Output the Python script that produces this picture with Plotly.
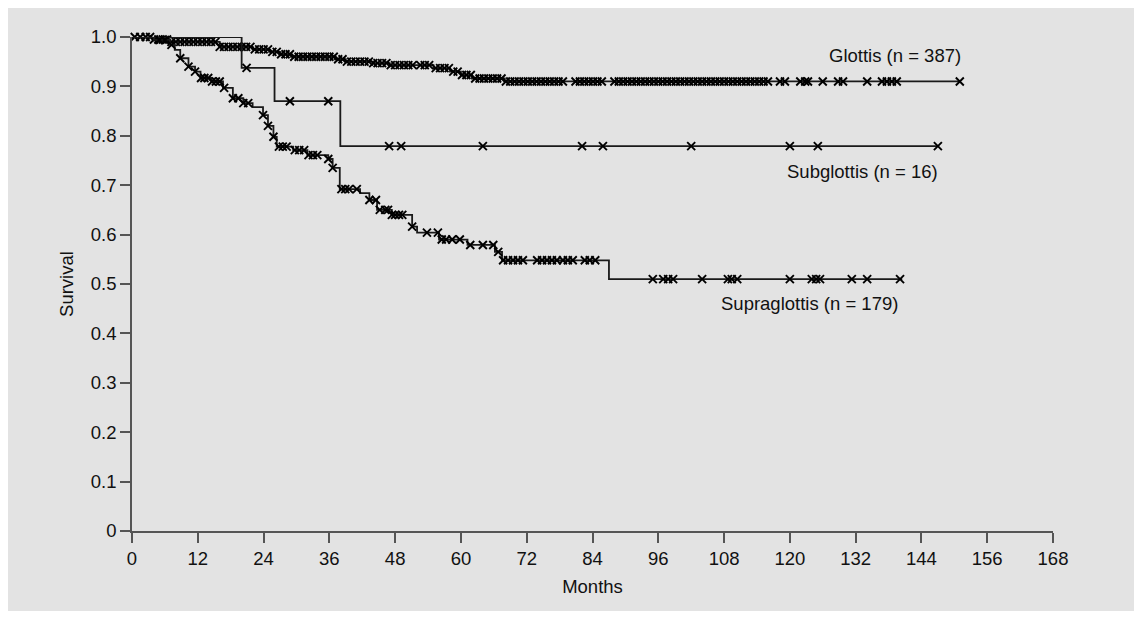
import plotly.graph_objects as go

# ---------------- data ----------------
x_ticks = [0, 12, 24, 36, 48, 60, 72, 84, 96, 108, 120, 132, 144, 156, 168]
y_ticks = [0, 0.1, 0.2, 0.3, 0.4, 0.5, 0.6, 0.7, 0.8, 0.9, 1.0]
y_tick_text = ["0", "0.1", "0.2", "0.3", "0.4", "0.5", "0.6", "0.7", "0.8", "0.9", "1.0"]

# Glottis (n = 387): step times (months) and survival after each step
glottis_times = [0, 4, 7, 16, 22, 25, 27, 29, 37, 39, 44, 47, 55, 58, 60, 62, 68, 151]
glottis_surv = [1.0, 0.995, 0.99, 0.98, 0.975, 0.97, 0.965, 0.96, 0.955, 0.95, 0.947,
                0.943, 0.937, 0.93, 0.923, 0.916, 0.91, 0.91]
glottis_censor = [0.5, 1.5, 2.5, 3.3,
                  4.0, 4.8, 5.6, 6.4, 7.2, 8.0, 8.8, 9.6, 10.4, 11.2, 12.0, 12.8, 13.6,
                  14.4, 15.2, 16.0, 16.8, 17.6, 18.4, 19.2, 20.0, 20.8, 21.6, 22.4, 23.2,
                  24.0, 24.8, 25.6, 26.4, 27.2, 28.0, 28.8, 29.6, 30.4, 31.2, 32.0, 32.8,
                  33.6, 34.4, 35.2, 36.0, 36.8, 37.6, 38.4, 39.2, 40.0, 40.8, 41.6, 42.4,
                  43.2, 44.0, 44.8, 45.6, 46.4, 47.2, 48.0, 48.8, 49.6, 50.4, 51.2,
                  52.6, 53.4, 54.2, 55.4, 56.2, 57.0, 57.8, 58.6, 59.4, 60.2, 61.0, 61.8,
                  62.6, 63.4, 64.2, 65.0, 65.8, 66.6, 67.4, 68.2, 69.0, 69.8, 70.6, 71.4,
                  72.2, 73.0, 73.8, 74.6, 75.4, 76.2, 77.0, 77.8, 78.6,
                  80.9, 81.7, 82.5, 83.3, 84.1, 84.9, 85.7,
                  88.0, 88.8, 89.6, 90.4, 91.2, 92.0, 92.8, 93.6, 94.4, 95.2, 96.0, 96.8,
                  97.6, 98.4, 99.2, 100.0, 100.8, 101.6, 102.4, 103.2, 104.0, 104.8, 105.6,
                  106.4, 107.2, 108.0, 108.8, 109.6, 110.4, 111.2, 112.0, 112.8, 113.6,
                  114.4, 115.2, 116.0,
                  118.2, 119.1, 121.9, 122.8, 123.3, 126.0, 128.8, 129.7, 134.1,
                  136.8, 137.7, 138.6, 139.5, 151.0]

# Subglottis (n = 16)
subglottis_times = [0, 20, 26, 38, 147]
subglottis_surv = [1.0, 0.9375, 0.87, 0.779, 0.779]
subglottis_censor = [20.9, 28.8, 35.8, 46.9, 49.1, 64.0, 82.1, 85.9, 102.0, 120.0, 125.1, 147.0]

# Supraglottis (n = 179)
supraglottis_times = [0, 4, 6.9, 7.8, 8.8, 10.3, 11.5, 12.5, 14.5, 16.6, 18.4, 20.3, 22.0,
                      23.9, 24.8, 25.8, 26.4, 29.4, 32.0, 35.8, 36.6, 37.9, 41.6, 43.3,
                      44.7, 47.4, 51.1, 52.0, 56.0, 61.2, 66.2, 67.5, 87.0, 140.5]
supraglottis_surv = [1.0, 0.994, 0.984, 0.974, 0.957, 0.94, 0.93, 0.917, 0.91, 0.897,
                     0.876, 0.866, 0.858, 0.842, 0.82, 0.798, 0.778, 0.771, 0.761, 0.753,
                     0.735, 0.692, 0.684, 0.67, 0.65, 0.64, 0.616, 0.604, 0.59, 0.579,
                     0.565, 0.548, 0.51, 0.51]
supraglottis_censor = [5.0, 6.0, 7.2, 8.8, 10.3, 11.5, 12.6, 13.2, 13.9, 14.6, 15.3, 16.0,
                       16.8, 18.4, 19.4, 20.3, 21.2, 23.9, 24.8, 25.8, 26.8, 27.5, 28.2,
                       29.7, 30.5, 31.4, 32.2, 33.0, 33.8, 35.8, 36.6, 38.2, 38.9, 39.6,
                       41.0, 43.3, 44.5, 45.2, 46.2, 46.7, 47.4, 48.0, 48.7, 49.3, 51.1,
                       53.8, 55.8, 56.5, 57.3, 58.4, 59.8, 61.7, 64.0, 65.9, 66.8, 67.7,
                       68.6, 69.5, 70.4, 71.3, 73.9, 74.8, 75.7, 76.6, 77.5, 78.6, 79.5,
                       80.4, 82.6, 83.5, 84.5, 95.0, 96.9, 97.8, 98.7, 104.0, 108.7, 109.4,
                       110.4, 120.0, 124.0, 124.8, 125.5, 131.3, 134.1, 140.1]

labels = ["Glottis (n = 387)", "Subglottis (n = 16)", "Supraglottis (n = 179)"]
label_x = [139.2, 133.2, 123.6]
label_y = [0.962, 0.727, 0.4615]

# ---------------- figure ----------------
FONT = "Liberation Sans, Arial, Helvetica, sans-serif"
FSIZE = 18.5
LINE_COLOR = "#1a1a1a"


def surv_at(times, surv, t):
    val = surv[0]
    for ti, si in zip(times, surv):
        if ti <= t:
            val = si
    return val


fig = go.Figure()

curves = [
    (glottis_times, glottis_surv, glottis_censor),
    (subglottis_times, subglottis_surv, subglottis_censor),
    (supraglottis_times, supraglottis_surv, supraglottis_censor),
]

for times, surv, cens in curves:
    fig.add_trace(go.Scatter(
        x=times, y=surv, mode="lines", line=dict(color=LINE_COLOR, width=1.8, shape="hv"),
        showlegend=False, hoverinfo="skip", cliponaxis=False))
    fig.add_trace(go.Scatter(
        x=cens, y=[surv_at(times, surv, c) for c in cens], mode="markers",
        marker=dict(symbol="x-thin", size=8, line=dict(color="#000000", width=1.9)),
        showlegend=False, cliponaxis=False))

for txt, lx, ly in zip(labels, label_x, label_y):
    fig.add_annotation(x=lx, y=ly, text=txt, showarrow=False, xanchor="center",
                       yanchor="middle", font=dict(family=FONT, size=FSIZE, color="#111111"))

W, H = 1128, 603
L, R, T, B = 124, 83, 29, 80

axis_common = dict(showgrid=False, zeroline=False, showline=True, linecolor="#555555",
                   linewidth=1.5, ticks="outside", ticklen=10, tickwidth=1.5,
                   tickcolor="#555555",
                   tickfont=dict(family=FONT, size=FSIZE, color="#111111"))

fig.update_xaxes(range=[0, 168], tickvals=x_ticks, ticktext=[str(v) for v in x_ticks],
                 title=dict(text="Months", font=dict(family=FONT, size=FSIZE, color="#111111"),
                            standoff=12),
                 **axis_common)
fig.update_yaxes(range=[0, 1.0], tickvals=y_ticks, ticktext=y_tick_text,
                 title=dict(text="Survival", font=dict(family=FONT, size=FSIZE, color="#111111"),
                            standoff=12),
                 **axis_common)

fig.update_layout(width=W, height=H, margin=dict(l=L, r=R, t=T, b=B, autoexpand=False),
                  paper_bgcolor="#e3e3e3", plot_bgcolor="#e3e3e3",
                  font=dict(family=FONT, size=FSIZE, color="#111111"))

fig.write_html("out.html")
